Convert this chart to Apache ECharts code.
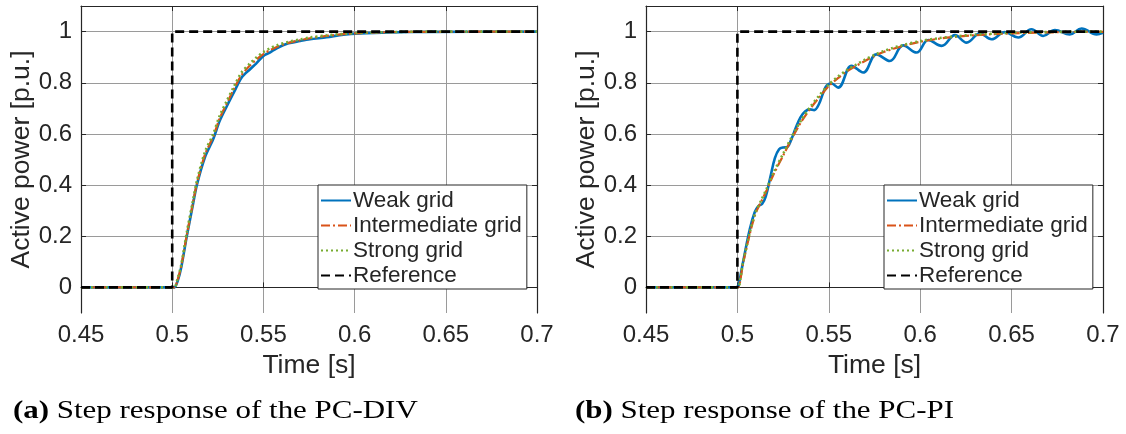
<!DOCTYPE html>
<html>
<head>
<meta charset="utf-8">
<script src="https://cdn.jsdelivr.net/npm/echarts@6/dist/echarts.min.js"></script>
<style>
html,body{margin:0;padding:0;background:#fff;}
#c{width:1126px;height:434px;}
</style>
</head>
<body>
<div id="c"></div>
<script>
// ---------- data ----------
const seriesNames = ['Weak grid', 'Intermediate grid', 'Strong grid', 'Reference'];
const xTicks = [0.45, 0.5, 0.55, 0.6, 0.65, 0.7];
const yTicks = [0, 0.2, 0.4, 0.6, 0.8, 1];
const captionA = 'Step response of the PC-DIV';
const captionB = 'Step response of the PC-PI';

// (a) PC-DIV
const divTime   = [0.45, 0.5, 0.5012, 0.503, 0.505, 0.508, 0.511, 0.5135, 0.518, 0.5225, 0.526, 0.53, 0.534, 0.538, 0.5427, 0.546, 0.55, 0.5535, 0.5573, 0.5637, 0.57, 0.5755, 0.5847, 0.5938, 0.603, 0.62, 0.64, 0.7];
const divWeak   = [0, 0, 0, 0.025, 0.08, 0.2, 0.31, 0.4, 0.51, 0.58, 0.65, 0.709, 0.765, 0.82, 0.853, 0.875, 0.905, 0.918, 0.935, 0.954, 0.963, 0.97, 0.978, 0.988, 0.993, 0.997, 0.999, 1.0];
const divInter  = [0, 0, 0, 0.03, 0.085, 0.205, 0.315, 0.405, 0.52, 0.59, 0.66, 0.72, 0.778, 0.83, 0.868, 0.89, 0.912, 0.927, 0.94, 0.956, 0.966, 0.974, 0.983, 0.99, 0.994, 0.998, 0.999, 1.0];
const divStrong = [0, 0, 0, 0.035, 0.09, 0.215, 0.325, 0.415, 0.53, 0.6, 0.67, 0.73, 0.787, 0.84, 0.876, 0.898, 0.92, 0.934, 0.946, 0.96, 0.969, 0.977, 0.985, 0.991, 0.995, 0.998, 1.0, 1.0];

// (b) PC-PI
const piTime    = [0.45, 0.5, 0.5005, 0.503, 0.5068, 0.51, 0.513, 0.516, 0.52, 0.525, 0.53, 0.535, 0.54, 0.545, 0.55, 0.555, 0.56, 0.565, 0.57, 0.575, 0.58, 0.585, 0.59, 0.6, 0.61, 0.62, 0.63, 0.64, 0.65, 0.66, 0.68, 0.7];
const piInter   = [0, 0, 0, 0.09, 0.21, 0.29, 0.335, 0.38, 0.445, 0.515, 0.585, 0.648, 0.7, 0.745, 0.787, 0.818, 0.845, 0.866, 0.886, 0.905, 0.92, 0.932, 0.943, 0.96, 0.972, 0.98, 0.986, 0.99, 0.993, 0.995, 0.998, 0.999];
const piStrong  = [0, 0, 0, 0.095, 0.215, 0.295, 0.34, 0.386, 0.452, 0.522, 0.592, 0.655, 0.707, 0.752, 0.793, 0.824, 0.85, 0.871, 0.891, 0.909, 0.924, 0.936, 0.946, 0.963, 0.974, 0.982, 0.988, 0.992, 0.995, 0.997, 0.999, 1.0];
const piWeakTime = [0.45, 0.5, 0.5005, 0.503, 0.5068, 0.5095, 0.5115, 0.5135, 0.5155, 0.518, 0.5205, 0.5228, 0.525, 0.527, 0.529, 0.532, 0.5345, 0.537, 0.5397, 0.542, 0.5445, 0.547, 0.5489, 0.5515, 0.5551, 0.5625, 0.5688, 0.5761, 0.5834, 0.5907, 0.598, 0.6044, 0.6117, 0.619, 0.6254, 0.6327, 0.639, 0.6463, 0.6536, 0.6609, 0.6673, 0.6737, 0.6818, 0.6883, 0.6965, 0.7];
const piWeak     = [0, 0, 0.003, 0.095, 0.228, 0.295, 0.318, 0.326, 0.355, 0.43, 0.505, 0.54, 0.547, 0.548, 0.57, 0.625, 0.665, 0.688, 0.696, 0.693, 0.715, 0.762, 0.79, 0.797, 0.781, 0.866, 0.84, 0.911, 0.885, 0.946, 0.918, 0.967, 0.944, 0.986, 0.957, 0.993, 0.97, 0.998, 0.977, 1.009, 0.983, 1.006, 0.989, 1.012, 0.989, 0.995];

// reference step
const refTime  = [0.45, 0.5, 0.5, 0.7];
const refValue = [0, 0, 1, 1];

// ---------- build ----------
const zip = (xs, ys) => xs.map((x, i) => [x, ys[i]]);
const TXT = '#262626';
const FONT = 'Liberation Sans';
const colors = ['#0072BD', '#D95319', '#77AC30', '#000000'];

const grids = [
  {left: 81, top: 6, width: 456, height: 307},
  {left: 646, top: 6, width: 457, height: 307}
];

function mainX(gi) {
  return {
    type: 'value', gridIndex: gi, min: 0.45, max: 0.7, interval: 0.05,
    name: 'Time [s]', nameLocation: 'middle', nameGap: 33,
    nameTextStyle: {fontFamily: FONT, fontSize: 26.5, color: TXT},
    axisLine: {show: true, lineStyle: {color: TXT, width: 1.2}},
    axisTick: {show: true, inside: true, length: 5, lineStyle: {color: TXT}},
    axisLabel: {fontFamily: FONT, fontSize: 24, color: TXT, margin: 10, showMinLabel: true, showMaxLabel: true},
    splitLine: {show: true, lineStyle: {color: '#9a9a9a', width: 1}}
  };
}
function topX(gi) {
  return {
    type: 'value', gridIndex: gi, position: 'top', min: 0.45, max: 0.7, interval: 0.05,
    axisLine: {show: true, onZero: false, lineStyle: {color: TXT, width: 1.2}},
    axisTick: {show: true, inside: true, length: 5, lineStyle: {color: TXT}},
    axisLabel: {show: false}, splitLine: {show: false}
  };
}
function mainY(gi) {
  return {
    type: 'value', gridIndex: gi, min: -0.1, max: 1.1,
    name: 'Active power [p.u.]', nameLocation: 'middle', nameGap: 39,
    nameTextStyle: {fontFamily: FONT, fontSize: 26.5, color: TXT},
    axisLine: {show: true, onZero: false, lineStyle: {color: TXT, width: 1.2}},
    axisTick: {show: true, inside: true, length: 5, customValues: yTicks, lineStyle: {color: TXT}},
    axisLabel: {fontFamily: FONT, fontSize: 24, color: TXT, margin: 9, customValues: yTicks},
    splitLine: {show: true, lineStyle: {color: '#9a9a9a', width: 1}}
  };
}
function rightY(gi) {
  return {
    type: 'value', gridIndex: gi, position: 'right', min: -0.1, max: 1.1,
    axisLine: {show: true, onZero: false, lineStyle: {color: TXT, width: 1.2}},
    axisTick: {show: true, inside: true, length: 5, customValues: yTicks, lineStyle: {color: TXT}},
    axisLabel: {show: false}, splitLine: {show: false}
  };
}

const xAxis = [mainX(0), mainX(1), topX(0), topX(1)];
const yAxis = [mainY(0), mainY(1), rightY(0), rightY(1)];

function lineSeries(name, data, gi, idx, smooth) {
  const styles = [
    {width: 2.6, type: 'solid'},
    {width: 2.2, type: [9, 3, 2, 3]},
    {width: 2.6, type: [2, 3]},
    {width: 2.6, type: [9, 5]}
  ];
  return {
    type: 'line', name: name, xAxisIndex: gi, yAxisIndex: gi, data: data,
    showSymbol: false, symbol: 'none', smooth: smooth, animation: false,
    color: colors[idx],
    lineStyle: Object.assign({color: colors[idx]}, styles[idx]),
    z: 2 + idx
  };
}

const series = [
  lineSeries(seriesNames[0], zip(divTime, divWeak), 0, 0, 0.3),
  lineSeries(seriesNames[1], zip(divTime, divInter), 0, 1, 0.3),
  lineSeries(seriesNames[2], zip(divTime, divStrong), 0, 2, 0.3),
  lineSeries(seriesNames[3], zip(refTime, refValue), 0, 3, false),
  lineSeries(seriesNames[0], zip(piWeakTime, piWeak), 1, 0, 0.4),
  lineSeries(seriesNames[1], zip(piTime, piInter), 1, 1, 0.3),
  lineSeries(seriesNames[2], zip(piTime, piStrong), 1, 2, 0.3),
  lineSeries(seriesNames[3], zip(refTime, refValue), 1, 3, false)
];

function legend(left) {
  return {
    data: seriesNames, orient: 'vertical', left: left, top: 185,
    backgroundColor: '#fff', borderColor: TXT, borderWidth: 1,
    padding: [4, 5, 2, 2], itemWidth: 30, itemHeight: 20, itemGap: 2,
    selectedMode: false,
    itemStyle: {opacity: 0},
    textStyle: {fontFamily: FONT, fontSize: 22.5, color: TXT, padding: [0, 0, 0, -3]}
  };
}

const chart = echarts.init(document.getElementById('c'), null, {renderer: 'canvas'});
chart.setOption({
  animation: false,
  backgroundColor: '#fff',
  grid: grids,
  xAxis: xAxis,
  yAxis: yAxis,
  legend: [legend(318), legend(884)],
  series: series,
  graphic: [
    {type: 'text', left: 13, top: 398, scaleX: 1.19,
     style: {text: '{b|(a)} ' + captionA, fontFamily: 'Liberation Serif', fontSize: 26, fill: '#000',
             rich: {b: {fontWeight: 'bold', fontFamily: 'Liberation Serif', fontSize: 26, fill: '#000'}}}},
    {type: 'text', left: 575, top: 398, scaleX: 1.19,
     style: {text: '{b|(b)} ' + captionB, fontFamily: 'Liberation Serif', fontSize: 26, fill: '#000',
             rich: {b: {fontWeight: 'bold', fontFamily: 'Liberation Serif', fontSize: 26, fill: '#000'}}}}
  ]
});
</script>
</body>
</html>
